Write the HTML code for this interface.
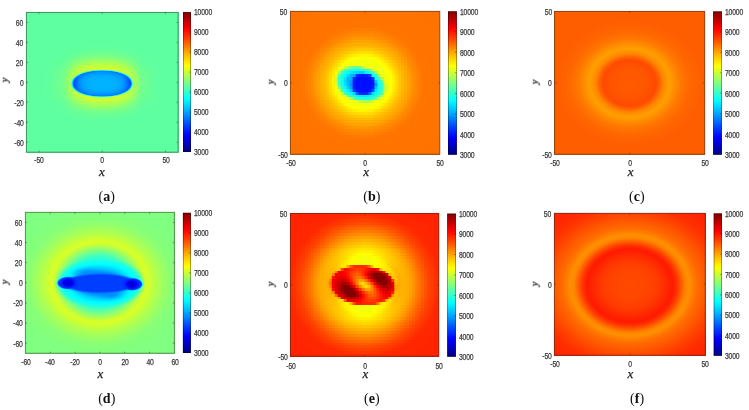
<!DOCTYPE html>
<html><head><meta charset="utf-8">
<style>
html,body{margin:0;padding:0;background:#fff;}
body{width:749px;height:410px;position:relative;overflow:hidden;font-family:"Liberation Sans",sans-serif;}
.t{filter:blur(0.3px);}
.xl,.cap{filter:blur(0.25px);}
.box{position:absolute;}
.cv{position:absolute;display:block;filter:blur(0.5px);}
svg.ov{position:absolute;left:0;top:0;filter:blur(0.35px);}
.t{position:absolute;font-size:8.5px;line-height:1;color:#3a3a3a;white-space:nowrap;letter-spacing:-0.2px;-webkit-text-stroke:0.25px #3a3a3a;}
.tl{transform-origin:0 50%;transform:scaleX(0.8);}
.tr{transform-origin:100% 50%;transform:scaleX(0.8);}
.tc{transform:translateX(-50%) scaleX(0.8);}
.xl{position:absolute;font-family:"Liberation Serif",serif;font-style:italic;font-size:13px;line-height:1;color:#1a1a1a;white-space:nowrap;-webkit-text-stroke:0.25px #1a1a1a;}
.cap{position:absolute;font-family:"Liberation Serif",serif;font-weight:normal;font-size:14px;line-height:1;color:#111;white-space:nowrap;}
</style></head><body>

<div class="box" style="left:25.9px;top:11.95px;width:152.7px;height:140.75px;background:radial-gradient(ellipse 94.81px 53.26px at 50% 49%,#00b2ff 0px,#00b2ff 2.37px,#00b2ff 4.74px,#00b2ff 7.11px,#00b2ff 9.48px,#00b0ff 11.85px,#00aeff 14.22px,#00aaff 16.59px,#00a2ff 18.96px,#0094ff 21.33px,#007cff 23.7px,#0059ff 26.07px,#008aff 28.44px,#a7ff58 30.81px,#9dff62 33.18px,#8aff75 35.55px,#77ff88 37.92px,#72ff8d 40.3px,#6eff91 42.67px,#6aff95 45.04px,#66ff99 47.41px,#64ff9b 49.78px,#62ff9d 52.15px,#60ff9f 54.52px,#5fffa0 56.89px,#5fffa0 59.26px,#5effa1 61.63px,#5effa1 64px,#5effa1 66.37px,#5effa1 68.74px,#5effa1 71.11px,#5effa1 73.48px,#5effa1 75.85px,#5effa1 78.22px,#5effa1 80.59px,#5effa1 82.96px,#5effa1 85.33px,#5effa1 87.7px,#5effa1 90.07px,#5effa1 92.44px,#5effa1 94.81px)"></div>
<canvas class="cv" id="cv_a" style="left:25.9px;top:11.95px;width:152.7px;height:140.75px"></canvas>
<div class="t tl" style="left:194px;top:8.45px">10000</div>
<div class="t tl" style="left:194px;top:28.44px">9000</div>
<div class="t tl" style="left:194px;top:48.42px">8000</div>
<div class="t tl" style="left:194px;top:68.41px">7000</div>
<div class="t tl" style="left:194px;top:88.39px">6000</div>
<div class="t tl" style="left:194px;top:108.38px">5000</div>
<div class="t tl" style="left:194px;top:128.36px">4000</div>
<div class="t tl" style="left:194px;top:148.35px">3000</div>
<div class="t tr" style="right:725.6px;top:18.78px">60</div>
<div class="t tr" style="right:725.6px;top:38.75px">40</div>
<div class="t tr" style="right:725.6px;top:58.71px">20</div>
<div class="t tr" style="right:725.6px;top:78.67px">0</div>
<div class="t tr" style="right:725.6px;top:98.64px">-20</div>
<div class="t tr" style="right:725.6px;top:118.6px">-40</div>
<div class="t tr" style="right:725.6px;top:138.57px">-60</div>
<div class="t tc" style="left:39.14px;top:156.2px">-50</div>
<div class="t tc" style="left:102.35px;top:156.2px">0</div>
<div class="t tc" style="left:165.56px;top:156.2px">50</div>
<div class="xl" style="left:101.85px;top:165.4px;font-size:13px;transform:translateX(-50%)">x</div>
<div class="xl" style="left:5px;top:80.1px;font-size:10.5px;transform:translate(-50%,-50%) rotate(-90deg)">y</div>
<div class="cap" style="left:106.75px;top:190.2px;transform:translateX(-50%)">(<b>a</b>)</div>
<div class="box" style="left:289.9px;top:10.85px;width:150.5px;height:143.9px;background:radial-gradient(circle at 50% 50%,#000fff 0px,#000fff 2.8px,#000fff 5.61px,#0022ff 8.41px,#00e9ff 11.21px,#1bffe4 14.02px,#4affb5 16.82px,#e2ff1d 19.62px,#f5ff0a 22.43px,#fcff03 25.23px,#fff300 28.03px,#ffdd00 30.83px,#ffcb00 33.64px,#ffbd00 36.44px,#ffb000 39.24px,#ffa700 42.05px,#ff9c00 44.85px,#ff9100 47.65px,#ff8800 50.46px,#ff8100 53.26px,#ff7a00 56.06px,#ff7500 58.87px,#ff7500 61.67px,#ff7500 64.47px,#ff7400 67.28px,#ff7400 70.08px,#ff7400 72.88px,#ff7400 75.68px,#ff7300 78.49px,#ff7300 81.29px,#ff7300 84.09px,#ff7300 86.9px,#ff7300 89.7px,#ff7200 92.5px,#ff7200 95.31px,#ff7200 98.11px,#ff7200 100.91px,#ff7100 103.72px,#ff7100 106.52px,#ff7100 109.32px,#ff7100 112.13px)"></div>
<canvas class="cv" id="cv_b" style="left:289.9px;top:10.85px;width:150.5px;height:143.9px"></canvas>
<div class="t tl" style="left:459.9px;top:7.65px">10000</div>
<div class="t tl" style="left:459.9px;top:28.14px">9000</div>
<div class="t tl" style="left:459.9px;top:48.64px">8000</div>
<div class="t tl" style="left:459.9px;top:69.13px">7000</div>
<div class="t tl" style="left:459.9px;top:89.62px">6000</div>
<div class="t tl" style="left:459.9px;top:110.11px">5000</div>
<div class="t tl" style="left:459.9px;top:130.61px">4000</div>
<div class="t tl" style="left:459.9px;top:151.1px">3000</div>
<div class="t tr" style="right:461.6px;top:7.7px">50</div>
<div class="t tr" style="right:461.6px;top:79.15px">0</div>
<div class="t tr" style="right:461.6px;top:150.6px">-50</div>
<div class="t tc" style="left:290.5px;top:159.15px">-50</div>
<div class="t tc" style="left:365.25px;top:159.15px">0</div>
<div class="t tc" style="left:440px;top:159.15px">50</div>
<div class="xl" style="left:366.05px;top:165.4px;font-size:13px;transform:translateX(-50%)">x</div>
<div class="xl" style="left:270.8px;top:81.9px;font-size:10.5px;transform:translate(-50%,-50%) rotate(-90deg)">y</div>
<div class="cap" style="left:371.9px;top:190.2px;transform:translateX(-50%)">(<b>b</b>)</div>
<div class="box" style="left:554.1px;top:10.95px;width:151.1px;height:143.8px;background:radial-gradient(circle at 50% 50%,#ff5b00 0px,#ff5a00 2.81px,#ff5900 5.63px,#ff5900 8.44px,#ff5800 11.26px,#ff5700 14.07px,#ff5500 16.89px,#ff5200 19.7px,#ff4f00 22.52px,#ff4b00 25.33px,#ff5600 28.14px,#ff6b00 30.96px,#ff8700 33.77px,#ff9200 36.59px,#ff9e00 39.4px,#ff9700 42.22px,#ff8e00 45.03px,#ff8400 47.84px,#ff7a00 50.66px,#ff7300 53.47px,#ff6e00 56.29px,#ff6900 59.1px,#ff6500 61.92px,#ff6300 64.73px,#ff6100 67.55px,#ff5f00 70.36px,#ff5e00 73.17px,#ff5e00 75.99px,#ff5e00 78.8px,#ff5e00 81.62px,#ff5e00 84.43px,#ff5e00 87.25px,#ff5e00 90.06px,#ff5e00 92.87px,#ff5e00 95.69px,#ff5e00 98.5px,#ff5e00 101.32px,#ff5e00 104.13px,#ff5e00 106.95px,#ff5e00 109.76px,#ff5e00 112.58px)"></div>
<canvas class="cv" id="cv_c" style="left:554.1px;top:10.95px;width:151.1px;height:143.8px"></canvas>
<div class="t tl" style="left:724.9px;top:7.75px">10000</div>
<div class="t tl" style="left:724.9px;top:28.23px">9000</div>
<div class="t tl" style="left:724.9px;top:48.71px">8000</div>
<div class="t tl" style="left:724.9px;top:69.19px">7000</div>
<div class="t tl" style="left:724.9px;top:89.66px">6000</div>
<div class="t tl" style="left:724.9px;top:110.14px">5000</div>
<div class="t tl" style="left:724.9px;top:130.62px">4000</div>
<div class="t tl" style="left:724.9px;top:151.1px">3000</div>
<div class="t tr" style="right:197.4px;top:7.8px">50</div>
<div class="t tr" style="right:197.4px;top:79.2px">0</div>
<div class="t tr" style="right:197.4px;top:150.6px">-50</div>
<div class="t tc" style="left:554.7px;top:159.45px">-50</div>
<div class="t tc" style="left:629.75px;top:159.45px">0</div>
<div class="t tc" style="left:704.8px;top:159.45px">50</div>
<div class="xl" style="left:630.55px;top:165.4px;font-size:13px;transform:translateX(-50%)">x</div>
<div class="xl" style="left:535.2px;top:81.9px;font-size:10.5px;transform:translate(-50%,-50%) rotate(-90deg)">y</div>
<div class="cap" style="left:636.9px;top:190.2px;transform:translateX(-50%)">(<b>c</b>)</div>
<div class="box" style="left:24.9px;top:211.85px;width:150px;height:141.9px;background:radial-gradient(ellipse 42.22px 9.06px at 50% 50%,#002fff 0px,#0012ff 32.28px,#0000e6 38.49px,rgba(0,0,255,0) 43.46px),radial-gradient(circle at 50% 50%,#003eff 0px,#003eff 1.89px,#003eff 3.77px,#003eff 5.66px,#003fff 7.55px,#007eff 9.44px,#009aff 11.32px,#00baff 13.21px,#00d1ff 15.1px,#00e9ff 16.98px,#00feff 18.87px,#10ffef 20.76px,#1fffe0 22.64px,#2dffd2 24.53px,#3affc5 26.42px,#50ffaf 28.31px,#66ff99 30.19px,#7cff83 32.08px,#93ff6c 33.97px,#aaff55 35.85px,#bfff40 37.74px,#d3ff2c 39.63px,#d6ff29 41.52px,#d0ff2f 43.4px,#c7ff38 45.29px,#bdff42 47.18px,#b5ff4a 49.06px,#adff52 50.95px,#a5ff5a 52.84px,#9fff60 54.72px,#99ff66 56.61px,#93ff6c 58.5px,#8dff72 60.39px,#88ff77 62.27px,#87ff78 64.16px,#85ff7a 66.05px,#84ff7b 67.93px,#83ff7c 69.82px,#82ff7d 71.71px,#80ff7f 73.6px,#80ff80 75.48px)"></div>
<canvas class="cv" id="cv_d" style="left:24.9px;top:211.85px;width:150px;height:141.9px"></canvas>
<div class="t tl" style="left:193.9px;top:209.15px">10000</div>
<div class="t tl" style="left:193.9px;top:229.18px">9000</div>
<div class="t tl" style="left:193.9px;top:249.21px">8000</div>
<div class="t tl" style="left:193.9px;top:269.24px">7000</div>
<div class="t tl" style="left:193.9px;top:289.26px">6000</div>
<div class="t tl" style="left:193.9px;top:309.29px">5000</div>
<div class="t tl" style="left:193.9px;top:329.32px">4000</div>
<div class="t tl" style="left:193.9px;top:349.35px">3000</div>
<div class="t tr" style="right:726.6px;top:218.76px">60</div>
<div class="t tr" style="right:726.6px;top:238.89px">40</div>
<div class="t tr" style="right:726.6px;top:259.02px">20</div>
<div class="t tr" style="right:726.6px;top:279.15px">0</div>
<div class="t tr" style="right:726.6px;top:299.28px">-20</div>
<div class="t tr" style="right:726.6px;top:319.41px">-40</div>
<div class="t tr" style="right:726.6px;top:339.54px">-60</div>
<div class="t tc" style="left:25.5px;top:358.25px">-60</div>
<div class="t tc" style="left:50.33px;top:358.25px">-40</div>
<div class="t tc" style="left:75.17px;top:358.25px">-20</div>
<div class="t tc" style="left:100px;top:358.25px">0</div>
<div class="t tc" style="left:124.83px;top:358.25px">20</div>
<div class="t tc" style="left:149.67px;top:358.25px">40</div>
<div class="t tc" style="left:174.5px;top:358.25px">60</div>
<div class="xl" style="left:100.5px;top:367.3px;font-size:13px;transform:translateX(-50%)">x</div>
<div class="xl" style="left:4.9px;top:281.6px;font-size:10.5px;transform:translate(-50%,-50%) rotate(-90deg)">y</div>
<div class="cap" style="left:106.75px;top:391.9px;transform:translateX(-50%)">(<b>d</b>)</div>
<div class="box" style="left:289.9px;top:212.95px;width:149.5px;height:143.8px;background:radial-gradient(circle at 50% 50%,#ffe500 0px,#ffb700 2.68px,#ff6d00 5.36px,#ff3000 8.03px,#ff1a00 10.71px,#ff1f00 13.39px,#ff2500 16.07px,#ff3800 18.74px,#f0ff0f 21.42px,#f1ff0e 24.1px,#f5ff0a 26.78px,#fbff04 29.45px,#fff600 32.13px,#ffe900 34.81px,#ffdc00 37.49px,#ffcc00 40.16px,#ffbc00 42.84px,#ffac00 45.52px,#ff9b00 48.2px,#ff8a00 50.87px,#ff7800 53.55px,#ff6900 56.23px,#ff5b00 58.91px,#ff4c00 61.58px,#ff4000 64.26px,#ff3700 66.94px,#ff2e00 69.62px,#ff2800 72.29px,#ff2700 74.97px,#ff2600 77.65px,#ff2500 80.33px,#ff2500 83px,#ff2400 85.68px,#ff2300 88.36px,#ff2300 91.04px,#ff2300 93.71px,#ff2300 96.39px,#ff2200 99.07px,#ff2200 101.75px,#ff2200 104.42px,#ff2200 107.1px)"></div>
<canvas class="cv" id="cv_e" style="left:289.9px;top:212.95px;width:149.5px;height:143.8px"></canvas>
<div class="t tl" style="left:458.9px;top:209.95px">10000</div>
<div class="t tl" style="left:458.9px;top:230.4px">9000</div>
<div class="t tl" style="left:458.9px;top:250.85px">8000</div>
<div class="t tl" style="left:458.9px;top:271.3px">7000</div>
<div class="t tl" style="left:458.9px;top:291.75px">6000</div>
<div class="t tl" style="left:458.9px;top:312.2px">5000</div>
<div class="t tl" style="left:458.9px;top:332.65px">4000</div>
<div class="t tl" style="left:458.9px;top:353.1px">3000</div>
<div class="t tr" style="right:461.6px;top:209.8px">50</div>
<div class="t tr" style="right:461.6px;top:281.2px">0</div>
<div class="t tr" style="right:461.6px;top:352.6px">-50</div>
<div class="t tc" style="left:290.5px;top:361.65px">-50</div>
<div class="t tc" style="left:364.75px;top:361.65px">0</div>
<div class="t tc" style="left:439px;top:361.65px">50</div>
<div class="xl" style="left:365.45px;top:367.3px;font-size:13px;transform:translateX(-50%)">x</div>
<div class="xl" style="left:271.3px;top:283.5px;font-size:10.5px;transform:translate(-50%,-50%) rotate(-90deg)">y</div>
<div class="cap" style="left:371.9px;top:391.9px;transform:translateX(-50%)">(<b>e</b>)</div>
<div class="box" style="left:553.9px;top:212.8px;width:151.9px;height:142.95px;background:radial-gradient(circle at 50% 50%,#ff4800 0px,#ff4800 2.83px,#ff4800 5.66px,#ff4700 8.49px,#ff4700 11.32px,#ff4700 14.15px,#ff4500 16.98px,#ff4300 19.81px,#ff4000 22.63px,#ff3e00 25.46px,#ff3a00 28.29px,#ff3400 31.12px,#ff2d00 33.95px,#ff2700 36.78px,#ff2000 39.61px,#ff1a00 42.44px,#ff2900 45.27px,#ff3f00 48.1px,#ff5a00 50.93px,#ff7700 53.76px,#ff8900 56.59px,#ff8e00 59.42px,#ff8100 62.25px,#ff7500 65.08px,#ff6a00 67.9px,#ff6300 70.73px,#ff5d00 73.56px,#ff5600 76.39px,#ff4f00 79.22px,#ff4800 82.05px,#ff4100 84.88px,#ff3b00 87.71px,#ff3600 90.54px,#ff3000 93.37px,#ff2d00 96.2px,#ff2b00 99.03px,#ff2800 101.86px,#ff2600 104.69px,#ff2500 107.52px,#ff2500 110.35px,#ff2500 113.17px)"></div>
<canvas class="cv" id="cv_f" style="left:553.9px;top:212.8px;width:151.9px;height:142.95px"></canvas>
<div class="t tl" style="left:725px;top:209.75px">10000</div>
<div class="t tl" style="left:725px;top:230.09px">9000</div>
<div class="t tl" style="left:725px;top:250.44px">8000</div>
<div class="t tl" style="left:725px;top:270.78px">7000</div>
<div class="t tl" style="left:725px;top:291.12px">6000</div>
<div class="t tl" style="left:725px;top:311.46px">5000</div>
<div class="t tl" style="left:725px;top:331.81px">4000</div>
<div class="t tl" style="left:725px;top:352.15px">3000</div>
<div class="t tr" style="right:197.6px;top:209.65px">50</div>
<div class="t tr" style="right:197.6px;top:280.62px">0</div>
<div class="t tr" style="right:197.6px;top:351.6px">-50</div>
<div class="t tc" style="left:554.5px;top:360.35px">-50</div>
<div class="t tc" style="left:629.95px;top:360.35px">0</div>
<div class="t tc" style="left:705.4px;top:360.35px">50</div>
<div class="xl" style="left:630.45px;top:367.3px;font-size:13px;transform:translateX(-50%)">x</div>
<div class="xl" style="left:535.2px;top:284.2px;font-size:10.5px;transform:translate(-50%,-50%) rotate(-90deg)">y</div>
<div class="cap" style="left:637.1px;top:391.9px;transform:translateX(-50%)">(<b>f</b>)</div>
<svg class="ov" width="749" height="410" viewBox="0 0 749 410"><defs><linearGradient id="jet" x1="0" y1="1" x2="0" y2="0"><stop offset="0" stop-color="#000080"/><stop offset="0.06" stop-color="#0000bf"/><stop offset="0.12" stop-color="#0000ff"/><stop offset="0.19" stop-color="#0040ff"/><stop offset="0.25" stop-color="#0080ff"/><stop offset="0.31" stop-color="#00bfff"/><stop offset="0.38" stop-color="#00ffff"/><stop offset="0.44" stop-color="#40ffbf"/><stop offset="0.5" stop-color="#80ff80"/><stop offset="0.56" stop-color="#bfff40"/><stop offset="0.62" stop-color="#ffff00"/><stop offset="0.69" stop-color="#ffbf00"/><stop offset="0.75" stop-color="#ff8000"/><stop offset="0.81" stop-color="#ff4000"/><stop offset="0.88" stop-color="#ff0000"/><stop offset="0.94" stop-color="#bf0000"/><stop offset="1" stop-color="#800000"/></linearGradient></defs>
<rect x="183" y="12.1" width="8" height="139.9" fill="url(#jet)"/>
<rect x="183.4" y="12.5" width="7.2" height="139.1" fill="none" stroke="rgba(0,0,0,0.42)" stroke-width="0.8"/>
<path d="M190.6 32.09h-1.6M190.6 52.07h-1.6M190.6 72.06h-1.6M190.6 92.04h-1.6M190.6 112.03h-1.6M190.6 132.01h-1.6" stroke="rgba(0,0,0,0.4)" stroke-width="0.8" fill="none"/>
<rect x="26.4" y="12.45" width="151.7" height="139.75" fill="none" stroke="rgba(35,35,35,0.5)" stroke-width="1"/>
<path d="M39.04 152.2v-1.6M39.04 12.45v1.6M102.25 152.2v-1.6M102.25 12.45v1.6M165.46 152.2v-1.6M165.46 12.45v1.6M26.4 22.43h1.6M178.1 22.43h-1.6M26.4 42.4h1.6M178.1 42.4h-1.6M26.4 62.36h1.6M178.1 62.36h-1.6M26.4 82.33h1.6M178.1 82.33h-1.6M26.4 102.29h1.6M178.1 102.29h-1.6M26.4 122.25h1.6M178.1 122.25h-1.6M26.4 142.22h1.6M178.1 142.22h-1.6" stroke="rgba(35,35,35,0.5)" stroke-width="0.8" fill="none"/>
<rect x="448" y="11.3" width="8.9" height="143.45" fill="url(#jet)"/>
<rect x="448.4" y="11.7" width="8.1" height="142.65" fill="none" stroke="rgba(0,0,0,0.42)" stroke-width="0.8"/>
<path d="M456.5 31.79h-1.6M456.5 52.29h-1.6M456.5 72.78h-1.6M456.5 93.27h-1.6M456.5 113.76h-1.6M456.5 134.26h-1.6" stroke="rgba(0,0,0,0.4)" stroke-width="0.8" fill="none"/>
<rect x="290.4" y="11.35" width="149.5" height="142.9" fill="none" stroke="rgba(35,35,35,0.5)" stroke-width="1"/>
<path d="M365.15 154.25v-1.6M365.15 11.35v1.6M290.4 82.8h1.6M439.9 82.8h-1.6" stroke="rgba(35,35,35,0.5)" stroke-width="0.8" fill="none"/>
<rect x="713.1" y="11.4" width="8.8" height="143.35" fill="url(#jet)"/>
<rect x="713.5" y="11.8" width="8" height="142.55" fill="none" stroke="rgba(0,0,0,0.42)" stroke-width="0.8"/>
<path d="M721.5 31.88h-1.6M721.5 52.36h-1.6M721.5 72.84h-1.6M721.5 93.31h-1.6M721.5 113.79h-1.6M721.5 134.27h-1.6" stroke="rgba(0,0,0,0.4)" stroke-width="0.8" fill="none"/>
<rect x="554.6" y="11.45" width="150.1" height="142.8" fill="none" stroke="rgba(35,35,35,0.5)" stroke-width="1"/>
<path d="M629.65 154.25v-1.6M629.65 11.45v1.6M554.6 82.85h1.6M704.7 82.85h-1.6" stroke="rgba(35,35,35,0.5)" stroke-width="0.8" fill="none"/>
<rect x="182.9" y="212.8" width="8" height="140.2" fill="url(#jet)"/>
<rect x="183.3" y="213.2" width="7.2" height="139.4" fill="none" stroke="rgba(0,0,0,0.42)" stroke-width="0.8"/>
<path d="M190.5 232.83h-1.6M190.5 252.86h-1.6M190.5 272.89h-1.6M190.5 292.91h-1.6M190.5 312.94h-1.6M190.5 332.97h-1.6" stroke="rgba(0,0,0,0.4)" stroke-width="0.8" fill="none"/>
<rect x="25.4" y="212.35" width="149" height="140.9" fill="none" stroke="rgba(35,35,35,0.5)" stroke-width="1"/>
<path d="M50.23 353.25v-1.6M50.23 212.35v1.6M75.07 353.25v-1.6M75.07 212.35v1.6M99.9 353.25v-1.6M99.9 212.35v1.6M124.73 353.25v-1.6M124.73 212.35v1.6M149.57 353.25v-1.6M149.57 212.35v1.6M25.4 222.41h1.6M174.4 222.41h-1.6M25.4 242.54h1.6M174.4 242.54h-1.6M25.4 262.67h1.6M174.4 262.67h-1.6M25.4 282.8h1.6M174.4 282.8h-1.6M25.4 302.93h1.6M174.4 302.93h-1.6M25.4 323.06h1.6M174.4 323.06h-1.6M25.4 343.19h1.6M174.4 343.19h-1.6" stroke="rgba(35,35,35,0.5)" stroke-width="0.8" fill="none"/>
<rect x="447.2" y="213.6" width="8.7" height="143.15" fill="url(#jet)"/>
<rect x="447.6" y="214" width="7.9" height="142.35" fill="none" stroke="rgba(0,0,0,0.42)" stroke-width="0.8"/>
<path d="M455.5 234.05h-1.6M455.5 254.5h-1.6M455.5 274.95h-1.6M455.5 295.4h-1.6M455.5 315.85h-1.6M455.5 336.3h-1.6" stroke="rgba(0,0,0,0.4)" stroke-width="0.8" fill="none"/>
<rect x="290.4" y="213.45" width="148.5" height="142.8" fill="none" stroke="rgba(35,35,35,0.5)" stroke-width="1"/>
<path d="M364.65 356.25v-1.6M364.65 213.45v1.6M290.4 284.85h1.6M438.9 284.85h-1.6" stroke="rgba(35,35,35,0.5)" stroke-width="0.8" fill="none"/>
<rect x="713.7" y="213.4" width="8.3" height="142.4" fill="url(#jet)"/>
<rect x="714.1" y="213.8" width="7.5" height="141.6" fill="none" stroke="rgba(0,0,0,0.42)" stroke-width="0.8"/>
<path d="M721.6 233.74h-1.6M721.6 254.09h-1.6M721.6 274.43h-1.6M721.6 294.77h-1.6M721.6 315.11h-1.6M721.6 335.46h-1.6" stroke="rgba(0,0,0,0.4)" stroke-width="0.8" fill="none"/>
<rect x="554.4" y="213.3" width="150.9" height="141.95" fill="none" stroke="rgba(35,35,35,0.5)" stroke-width="1"/>
<path d="M629.85 355.25v-1.6M629.85 213.3v1.6M554.4 284.27h1.6M705.3 284.27h-1.6" stroke="rgba(35,35,35,0.5)" stroke-width="0.8" fill="none"/>
</svg>
<script>
(function(){
function clamp(v){return v<0?0:(v>1?1:v);}
function jet(v){var t=(v-3000)/7000;t=t<0?0:(t>1?1:t);
 return [clamp(1.5-Math.abs(4*t-3))*255, clamp(1.5-Math.abs(4*t-2))*255, clamp(1.5-Math.abs(4*t-1))*255];}
function interp(r,R,V){if(r<=R[0])return V[0];for(var i=1;i<R.length;i++){if(r<=R[i]){var u=(r-R[i-1])/(R[i]-R[i-1]);return V[i-1]+(V[i]-V[i-1])*u;}}return V[V.length-1];}
function smooth(e0,e1,x){var t=clamp((x-e0)/(e1-e0));return t*t*(3-2*t);}
function er(x,y,cx,cy,a,b,ang){var c=Math.cos(ang||0),s=Math.sin(ang||0);var dx=x-cx,dy=y-cy;var u=dx*c+dy*s,v=-dx*s+dy*c;return Math.sqrt((u/a)*(u/a)+(v/b)*(v/b));}
var D2R=Math.PI/180;
var F={
 a:{xr:[-60,60],yr:[-70,70],f:function(x,y){
   var v0=6270,cx=-0.3,cy=-1.0,A=23.5,B=13.2,P=2.15;
   var u=(x-cx)/A,w=(y-cy)/B;var au=Math.abs(u),aw=Math.abs(w);
   var rho=Math.pow(Math.pow(au,P)+Math.pow(aw,P),1/P);
   var e6=Math.pow(au,6);
   var vin=5100-500*Math.pow(rho,4)-600*e6*smooth(0.4,0.9,rho);
   var th=Math.atan2(w,u);var s2=Math.sin(th)*Math.sin(th),c2=1-s2;
   var d=Math.max(0,rho-1)*A*B/Math.sqrt(B*B*c2+A*A*s2);
   var af=0.3+0.7*clamp(1-Math.pow(Math.abs(x)/30,4));
   var halo=780*af*Math.exp(-Math.pow(d/12,2));
   var vout=v0+halo;
   var m=smooth(0.93,1.06,rho);
   return vin*(1-m)+vout*m;}},
 b:{xr:[-50,50],yr:[-50,50],q:2,f:function(x,y){
   var r=er(x,y,-1.2,0,1,0.97,0);
   var v=interp(r,[0,16,19,21,24,27,30,34,40,50,75],[7300,7300,7380,7550,7750,7900,8000,8170,8320,8330,8350]);
   var rc=er(x,y,-2.9,-0.7,15.8,11.4,-20*D2R);
   var vc=interp(rc,[0,0.55,0.7,0.85,1.0],[5000,5100,5500,5850,6150]);
   var m=smooth(0.93,1.12,rc);v=vc*(1-m)+v*m;
   var rk=er(x,y,-1.1,-0.75,8.4,7.8,0);
   var vk=3980+800*smooth(-7,-10.5,x)+250*smooth(0.6,1,rk);
   var mk=smooth(0.85,1.05,rk);v=vk*(1-mk)+v*mk;
   return v;}},
 c:{xr:[-50,50],yr:[-50,50],f:function(x,y){
   var r=er(x,y,0,0,1,0.9,0);
   return interp(r,[0,10,14,17.5,20,22.5,26.5,30,34,40,48,70],[8500,8530,8570,8620,8450,8200,8030,8150,8300,8420,8480,8480]);}},
 d:{xr:[-60,60],yr:[-70,70],f:function(x,y){
   var r=er(x,y,-0.8,0.8,1,1.048,0);
   var v=interp(r,[0,20,24,28.8,33.6,37.4,40,44,50,58,70],[5700,5750,6000,6400,6820,7120,7070,6920,6740,6560,6500]);
   var rh=er(x,y,0,-0.3,37,26,0);
   var vh=interp(rh,[0,0.42,0.55,0.72,0.88,1.0],[4800,5000,5250,5600,5850,6100]);
   vh-=380*Math.exp(-(Math.pow((x+13)/9,2)+Math.pow((y-10.5)/4.5,2)))+380*Math.exp(-(Math.pow((x-10)/9,2)+Math.pow((y+12)/4.5,2)));
   var mh=smooth(0.82,1.02,rh);v=vh*(1-mh)+v*mh;
   var yy=y+0.4;
   var rw=er(x,yy,0,0,24,12.5,0);
   var vw=4650+250*smooth(0.6,1,rw);
   var mw=smooth(0.8,1.1,rw);v=vw*(1-mw)+v*mw;
   var rl1=er(x,yy,-25.5,0.4,8.7,6.0,0),rl2=er(x,yy,25.5,-0.8,8.5,6.0,0);
   var rm=er(x,yy,0,0,30,9.0,0);
   var rb=Math.min(rl1,rl2,rm);
   var vb=4300-850*Math.exp(-Math.pow(er(x,yy,-25.5,0.4,4.5,3.8,0),2))-850*Math.exp(-Math.pow(er(x,yy,25.5,-0.8,4.5,3.8,0),2));
   var mb=smooth(0.85,1.12,rb);
   return vb*(1-mb)+v*mb;}},
 e:{xr:[-50,50],yr:[-50,50],q:2,f:function(x,y){
   var r=Math.sqrt(x*x+y*y);var th=Math.atan2(y,x);var c2=Math.cos(th)*Math.cos(th);
   var v=interp(r,[0,16,20,26,32,38,44,50,60,80],[7250,7270,7320,7600,7950,8330,8650,8850,8880,8900]);
   v+=c2*interp(r,[0,18,23,27,31,36,42,48],[300,350,480,250,100,80,60,0]);
   var rs=er(x,y,-1.2,-0.2,22.5,14.5,-6*D2R);
   if(rs<1.1){var rr=Math.sqrt(x*x+1.7*y*y);var a2=Math.atan2(y*1.3,x);
     var arm=Math.cos(2*(a2-56*D2R)+rr*0.08);
     var g=Math.exp(-Math.pow((rr-11)/7,2));
     var vs=9050+1250*g*(arm+0.45)/1.45-1500*Math.exp(-Math.pow(rr/6.5,2));
     var m=smooth(0.9,1.02,rs);v=vs*(1-m)+v*m;}
   return v;}},
 f:{xr:[-50,50],yr:[-50,50],f:function(x,y){
   var r=er(x,y,0,-0.7,1,0.905,0);
   return interp(r,[0,10,18,22,26,28.4,31,34,36.5,39,42,45,50,55,62,70],[8630,8640,8710,8800,8900,8950,8780,8480,8220,8130,8280,8400,8520,8650,8800,8870]);}}
};
for(var k in F){var cv=document.getElementById('cv_'+k);if(!cv)continue;
 var rc=cv.getBoundingClientRect();var W=Math.round(rc.width),H=Math.round(rc.height);
 cv.width=W;cv.height=H;var ctx=cv.getContext('2d');var im=ctx.createImageData(W,H);var d=im.data;var p=F[k];
 for(var j=0;j<H;j++){for(var i=0;i<W;i++){
   var x=p.xr[0]+(i+0.5)/W*(p.xr[1]-p.xr[0]);var y=p.yr[1]-(j+0.5)/H*(p.yr[1]-p.yr[0]);
   if(p.q){x=(Math.floor(x/p.q)+0.5)*p.q;y=(Math.floor(y/p.q)+0.5)*p.q;}
   var c=jet(p.f(x,y));var o=(j*W+i)*4;d[o]=c[0];d[o+1]=c[1];d[o+2]=c[2];d[o+3]=255;}}
 ctx.putImageData(im,0,0);}
})();

</script>
</body></html>
